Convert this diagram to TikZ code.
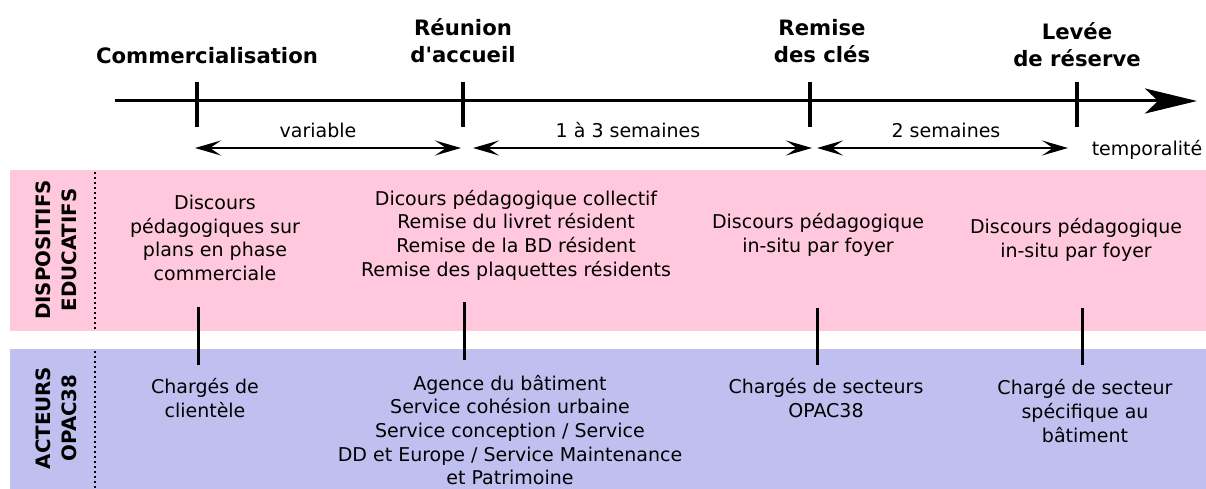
\documentclass[tikz,border=0pt]{standalone}
\usepackage{fontspec}
\setmainfont{DejaVu Sans}[Ligatures=TeXOff]
\usetikzlibrary{arrows.meta}
\definecolor{pinkband}{RGB}{255,200,220}
\definecolor{blueband}{RGB}{192,192,240}

\begin{document}
\begin{tikzpicture}[x=1pt, y=-1pt, inner sep=0pt,
  >={Stealth[length=26pt,width=15pt,inset=11pt]},
  txt/.style={align=center, font=\fontsize{19}{23.7}\selectfont},
  jalon/.style={align=center, font=\bfseries\fontsize{21.2}{27}\selectfont},
  bande/.style={align=center, rotate=90, font=\bfseries\fontsize{19.8}{26}\selectfont}]
\useasboundingbox (0,0) rectangle (1206,489);
\fill[pinkband] (10,170) rectangle (1206,331);
\fill[blueband] (10,349) rectangle (1206,489);
\draw[line width=2pt, dash pattern=on 2pt off 3pt] (95,172) -- (95,330);
\draw[line width=2pt, dash pattern=on 2pt off 3pt] (95,351) -- (95,489);
\node (dispo) at (56,250) [bande] {DISPOSITIFS\\EDUCATIFS};
\node (acteurs) at (56,418) [bande] {ACTEURS\\OPAC38};
% axe du temps
\coordinate (debut) at (115,101);
\coordinate (fin) at (1197,101);
\draw[line width=3pt, -{Stealth[length=52pt,width=25pt,inset=13pt]}] (debut) -- (fin);
\foreach \x in {197,463,810,1077}
  \draw[line width=3.4pt] (\x,82) -- (\x,127);
\node (commerce) at (207,56) [jalon] {Commercialisation};
\node (reunion) at (463,41) [jalon] {Réunion\\d'accueil};
\node (remise) at (822,41) [jalon] {Remise\\des clés};
\node (levee) at (1077,45) [jalon] {Levée\\de réserve};
% durees
\coordinate (a1) at (195,148);
\coordinate (a2) at (461,148);
\coordinate (a3) at (473,148);
\coordinate (a4) at (812,148);
\coordinate (a5) at (817,148);
\coordinate (a6) at (1068,148);
\draw[<->, line width=1.6pt] (a1) -- (a2);
\draw[<->, line width=1.6pt] (a3) -- (a4);
\draw[<->, line width=1.6pt] (a5) -- (a6);
\node (var) at (318,130) [txt] {variable};
\node (sem13) at (628,130) [txt] {1 à 3 semaines};
\node (sem2) at (946,130) [txt] {2 semaines};
\node (temps) at (1147,150) [txt] {temporalité};
% dispositifs
\node (d1) at (215,238) [txt] {Discours\\pédagogiques sur\\plans en phase\\commerciale};
\node (d2) at (516,235) [txt] {Dicours pédagogique collectif\\Remise du livret résident\\Remise de la BD résident\\Remise des plaquettes résidents};
\node (d3) at (818,235) [txt] {Discours pédagogique\\in-situ par foyer};
\node (d4) at (1076,240) [txt] {Discours pédagogique\\in-situ par foyer};
% acteurs
\node (o1) at (205,398) [txt] {Chargés de\\clientèle};
\node (o2) at (510,430) [txt] {Agence du bâtiment\\Service cohésion urbaine\\Service conception / Service\\DD et Europe / Service Maintenance\\et Patrimoine};
\node (o3) at (826,398) [txt] {Chargés de secteurs\\OPAC38};
\node (o4) at (1085,411) [txt] {Chargé de secteur\\spécifique au\\bâtiment};
% liens
\coordinate (h1) at (198,307);
\coordinate (b1) at (198,365);
\coordinate (h2) at (464,302);
\coordinate (b2) at (464,360);
\coordinate (h3) at (817,308);
\coordinate (b3) at (817,365);
\coordinate (h4) at (1082,308);
\coordinate (b4) at (1082,365);
\draw[line width=3pt] (h1) -- (b1);
\draw[line width=3pt] (h2) -- (b2);
\draw[line width=3pt] (h3) -- (b3);
\draw[line width=3pt] (h4) -- (b4);
\end{tikzpicture}
\end{document}
